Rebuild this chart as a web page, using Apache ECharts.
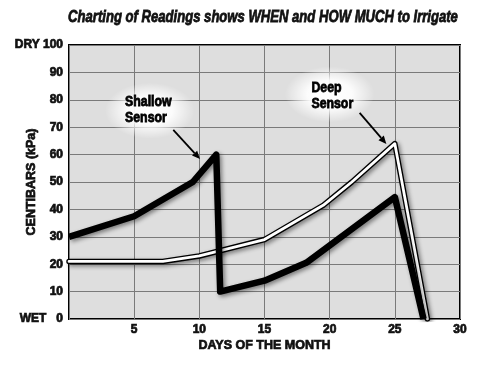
<!DOCTYPE html>
<html><head><meta charset="utf-8">
<script src="https://cdn.jsdelivr.net/npm/echarts@6/dist/echarts.min.js"></script>
<style>html,body{margin:0;padding:0;background:#fff}#c{width:486px;height:365px}</style>
</head><body><div id="c"></div>
<script>
var titleText = 'Charting of Readings shows WHEN and HOW MUCH to Irrigate';
var xAxisName = 'DAYS OF THE MONTH';
var yAxisName = 'CENTIBARS (kPa)';
var yTickLabels = {0: 'WET   0', 100: 'DRY 100'};
var shallowDays = [0, 5, 9.5, 11.3, 11.6, 15, 18.2, 25, 27.2];
var shallowVals = [30, 37.5, 50, 60, 10, 14, 20.5, 44.5, 0];
var deepDays = [0, 7.2, 10, 15, 19.5, 21.7, 25, 27.5];
var deepVals = [21, 21, 23, 29, 41.5, 50, 64, 0];
var notes = [
  {lines: ['Shallow', 'Sensor'], at: [4.3, 82], glow: [6.2, 76], from: [8.0, 69], to: [10.05, 58.4]},
  {lines: ['Deep', 'Sensor'], at: [18.6, 87], glow: [20.0, 82], from: [22.3, 75.2], to: [24.35, 63.9]}
];

var FONT = '"Liberation Sans", Arial, sans-serif';
function pairs(xs, ys) { return xs.map(function (x, i) { return [x, ys[i]]; }); }

var chart = echarts.init(document.getElementById('c'));
var shadow = {shadowColor: 'rgba(0,0,0,0.45)', shadowBlur: 4, shadowOffsetX: 2, shadowOffsetY: 2};
var heavy = {textBorderColor: '#111', textBorderWidth: 0.7};
chart.setOption({
  animation: false,
  backgroundColor: '#fff',
  grid: {left: 69, right: 26, top: 45, bottom: 46, containLabel: false, outerBoundsMode: 'none',
    show: true, backgroundColor: '#dedede', borderColor: '#000', borderWidth: 2},
  xAxis: {type: 'value', min: 0, max: 30, interval: 5,
    name: xAxisName, nameLocation: 'middle', nameGap: 20, nameMoveOverlap: false,
    nameTextStyle: Object.assign({fontFamily: FONT, fontWeight: 'bold', fontSize: 12.5, color: '#111', verticalAlign: 'top'}, heavy),
    axisLine: {show: false}, axisTick: {show: false},
    axisLabel: Object.assign({fontFamily: FONT, fontWeight: 'bold', fontSize: 12, color: '#111', margin: 5,
      formatter: function (v) { return v === 0 ? '' : String(v); }}, heavy),
    splitLine: {show: true, lineStyle: {color: '#7a7a7a', width: 1}}},
  yAxis: {type: 'value', min: 0, max: 100, interval: 10,
    name: yAxisName, nameLocation: 'middle', nameGap: 31, nameRotate: 90, nameMoveOverlap: false,
    nameTextStyle: Object.assign({fontFamily: FONT, fontWeight: 'bold', fontSize: 12.5, color: '#111'}, heavy),
    axisLine: {show: false}, axisTick: {show: false},
    axisLabel: Object.assign({fontFamily: FONT, fontWeight: 'bold', fontSize: 12, color: '#111', margin: 6,
      formatter: function (v) { return yTickLabels[v] || String(v); }}, heavy),
    splitLine: {show: true, lineStyle: {color: '#7a7a7a', width: 1}}},
  series: [
    {type: 'line', data: pairs(deepDays, deepVals), symbol: 'none', z: 3,
      lineStyle: Object.assign({color: '#000', width: 5.5, join: 'round', cap: 'round'}, shadow)},
    {type: 'line', data: pairs(deepDays, deepVals), symbol: 'none', z: 4,
      lineStyle: {color: '#fff', width: 2.8, join: 'round', cap: 'round'}},
    {type: 'line', data: pairs(shallowDays, shallowVals), symbol: 'none', z: 5,
      lineStyle: Object.assign({color: '#000', width: 6.5, join: 'round', cap: 'butt'}, shadow)}
  ]
});

function px(p) { return chart.convertToPixel({gridIndex: 0}, p); }
var g = [{type: 'text', x: 263, y: 9, z: 20, scaleX: 0.77, originX: 0, originY: 0,
  style: {text: titleText, fontStyle: 'italic', fontWeight: 'bold', fontSize: 17, fontFamily: FONT,
    fill: '#111', stroke: '#111', lineWidth: 0.8, align: 'center', verticalAlign: 'top'}}];
notes.forEach(function (n) {
  var c = px(n.glow);
  g.push({type: 'circle', shape: {cx: 0, cy: 0, r: 28}, x: c[0], y: c[1], scaleX: 1.6, scaleY: 1, z: 1,
    style: {fill: {type: 'radial', x: 0.5, y: 0.5, r: 0.5, colorStops: [
      {offset: 0, color: 'rgba(255,255,255,1)'}, {offset: 0.5, color: 'rgba(255,255,255,0.9)'}, {offset: 1, color: 'rgba(255,255,255,0)'}]}}});
  var t = px(n.at);
  g.push({type: 'text', x: t[0], y: t[1], z: 10, scaleX: 0.88, originX: 0, originY: 0,
    style: {text: n.lines.join('\n'), fontWeight: 'bold', fontSize: 14, fontFamily: FONT,
      fill: '#000', stroke: '#000', lineWidth: 0.8, lineHeight: 16}});
  var a = px(n.from), b = px(n.to);
  var ang = Math.atan2(b[1] - a[1], b[0] - a[0]), L = 8, W = 3.5;
  var bx = b[0] - L * Math.cos(ang), by = b[1] - L * Math.sin(ang);
  g.push({type: 'line', z: 10, shape: {x1: a[0], y1: a[1], x2: bx, y2: by}, style: {stroke: '#000', lineWidth: 1.8}});
  g.push({type: 'polygon', z: 10, shape: {points: [b,
    [bx + W * Math.sin(ang), by - W * Math.cos(ang)],
    [bx - W * Math.sin(ang), by + W * Math.cos(ang)]]}, style: {fill: '#000'}});
});
chart.setOption({graphic: g});
</script></body></html>
